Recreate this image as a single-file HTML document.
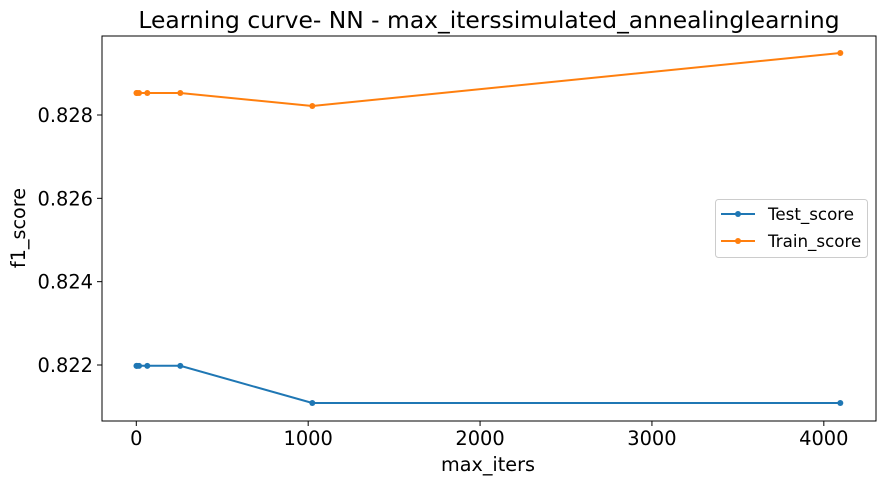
<!DOCTYPE html>
<html><head><meta charset="utf-8"><style>
body{margin:0;background:#fff}
svg{display:block;font-family:"DejaVu Sans","Liberation Sans",sans-serif}
</style></head><body>
<svg id="chart" width="885" height="485"></svg>
<script>
const xValues=[1,4,16,64,256,1024,4096];
const testScores=[0.82198,0.82198,0.82198,0.82198,0.82198,0.821088,0.821088];
const trainScores=[0.828528,0.828528,0.828528,0.828528,0.828528,0.828216,0.829488];
const xTicks=[0,1000,2000,3000,4000];
const yTicks=[0.822,0.824,0.826,0.828];
const yTickLabels=["0.822","0.824","0.826","0.828"];
const NS="http://www.w3.org/2000/svg";
const svg=document.getElementById('chart');
const L=102,R=876,T=36,B=421;
function sx(v){return 136.3+(v)*0.17188;}
function sy(v){return 365-(v-0.822)*41667;}
function mk(tag,attrs,parent){const e=document.createElementNS(NS,tag);for(const k in attrs)e.setAttribute(k,attrs[k]);(parent||svg).appendChild(e);return e;}
const title=mk('text',{x:489,y:28,'text-anchor':'middle','font-size':23.4,fill:'#000'});
title.textContent='Learning curve- NN - max_iterssimulated_annealinglearning';


xTicks.forEach(t=>{const x=sx(t);
 const tk=mk('line',{x1:x,x2:x,y1:B,y2:B+5,stroke:'#000','stroke-width':1});
 
 
 const tx=mk('text',{x:x,y:B+24,'text-anchor':'middle','font-size':19.4});
 tx.textContent=t;
 
 });
yTicks.forEach((t,i)=>{const y=sy(t);
 const tk=mk('line',{x1:L-5,x2:L,y1:y,y2:y,stroke:'#000','stroke-width':1});
 
 
 const tx=mk('text',{x:L-9,y:y+7,'text-anchor':'end','font-size':19.4});
 tx.textContent=yTickLabels[i];
 
 });
const xl=mk('text',{x:488,y:471,'text-anchor':'middle','font-size':19.2});xl.textContent='max_iters';


const yl=mk('text',{x:25,y:228,'text-anchor':'middle','font-size':19.2,transform:'rotate(-90 25 228)'});yl.textContent='f1_score';


function series(vals,color,name){
 const pts=xValues.map((x,i)=>sx(x).toFixed(1)+','+sy(vals[i]).toFixed(1)).join(' ');
 const pl=mk('polyline',{points:pts,fill:'none',stroke:color,'stroke-width':2});
 
 
 xValues.forEach((x,i)=>{const c=mk('circle',{cx:sx(x),cy:sy(vals[i]),r:3,fill:color});
 
 });
}
series(testScores,'#1f77b4','test-score');
series(trainScores,'#ff7f0e','train-score');
const frame=mk('rect',{x:L,y:T,width:R-L,height:B-T,fill:'none',stroke:'#000','stroke-width':1});


const lg=mk('g',{});


mk('rect',{x:715.5,y:199.5,width:152,height:58,rx:3,fill:'#fff',stroke:'#ccc'},lg);
[['Test_score','#1f77b4',214],['Train_score','#ff7f0e',241]].forEach(([lab,c,y])=>{
 mk('line',{x1:721,x2:755,y1:y,y2:y,stroke:c,'stroke-width':2},lg);
 mk('circle',{cx:738,cy:y,r:3,fill:c},lg);
 const t=mk('text',{x:768,y:y+6,'font-size':16.7},lg);t.textContent=lab;
 
 
});
</script>
</body></html>
